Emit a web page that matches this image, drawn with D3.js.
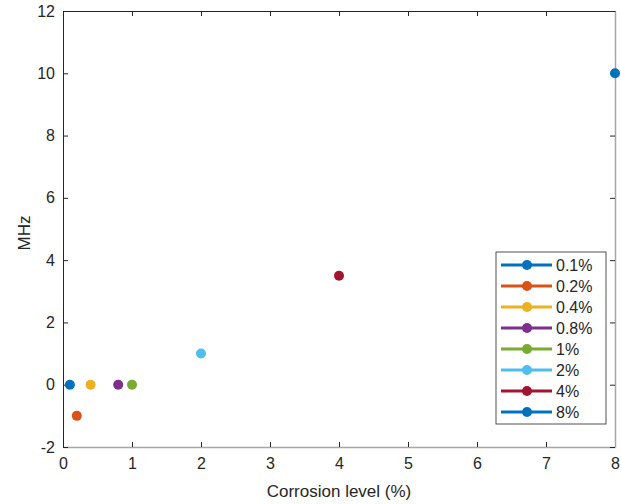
<!DOCTYPE html>
<html lang="en">
<head>
<meta charset="UTF-8">
<title>Corrosion level vs MHz</title>
<script src="https://d3js.org/d3.v7.min.js"></script>
<style>
    body { margin: 0; background: #fff; }
    svg text { font-family: "Liberation Sans", Arial, sans-serif; fill: #262626; }
</style>
</head>
<body>
<div id="chart"></div>
<script>
    // data
    var labels = ["0.1%", "0.2%", "0.4%", "0.8%", "1%", "2%", "4%", "8%"];
    var xVals = [0.1, 0.2, 0.4, 0.8, 1, 2, 4, 8];
    var yVals = [0, -1, 0, 0, 0, 1, 3.5, 10];
    var colors = ["#0072BD", "#D95319", "#EDB120", "#7E2F8E", "#77AC30", "#4DBEEE", "#A2142F", "#0072BD"];
    var xTicks = [0, 1, 2, 3, 4, 5, 6, 7, 8];
    var yTicks = [-2, 0, 2, 4, 6, 8, 10, 12];

    var W = 621, H = 504;
    var margin = {top: 11, right: 6, bottom: 57, left: 63};

    var svg = d3.select("#chart").append("svg")
        .attr("width", W)
        .attr("height", H);

    var x = d3.scaleLinear().domain([0, 8]).range([margin.left, W - margin.right]);
    var y = d3.scaleLinear().domain([-2, 12]).range([H - margin.bottom, margin.top]);

    var fmt = function(d) { return String(d); };   // plain hyphen for "-2"

    /* axes, ticks pointing inward like matlab */
    var gx = svg.append("g")
        .attr("transform", "translate(0," + y(-2) + ")")
        .call(d3.axisBottom(x).tickValues(xTicks).tickFormat(fmt).tickSizeInner(-5).tickSizeOuter(0).tickPadding(11));
    gx.select(".domain").attr("stroke", "#a6a6a6").attr("stroke-width", 1.5);
    gx.selectAll(".tick line").attr("stroke", "#262626");

    var gy = svg.append("g")
        .attr("transform", "translate(" + x(0) + ",0)")
        .call(d3.axisLeft(y).tickValues(yTicks).tickFormat(fmt).tickSizeInner(-5).tickSizeOuter(0).tickPadding(8));
    gy.select(".domain").attr("stroke", "#262626");
    gy.selectAll(".tick line").attr("stroke", "#262626");

    // top + right box edges with mirrored ticks
    var gt = svg.append("g")
        .attr("transform", "translate(0," + y(12) + ")")
        .call(d3.axisTop(x).tickValues(xTicks).tickSizeInner(-5).tickSizeOuter(0).tickFormat(""));
    gt.select(".domain").attr("stroke", "#262626");
    gt.selectAll(".tick line").attr("stroke", "#262626");

    var gr = svg.append("g")
        .attr("transform", "translate(" + x(8) + ",0)")
        .call(d3.axisRight(y).tickValues(yTicks).tickSizeInner(-5).tickSizeOuter(0).tickFormat(""));
    gr.select(".domain").attr("stroke", "#a6a6a6").attr("stroke-width", 1.5);
    gr.selectAll(".tick line").attr("stroke", "#262626");

    svg.selectAll(".tick text")
        .attr("fill", "#262626")
        .attr("font-family", null)
        .attr("font-size", null)
        .style("font-size", "16px");

    /* points */
    svg.append("g").selectAll("circle")
        .data(labels)
        .enter().append("circle")
        .attr("cx", function(d, i) { return x(xVals[i]); })
        .attr("cy", function(d, i) { return y(yVals[i]); })
        .attr("r", 5)
        .attr("fill", function(d, i) { return colors[i]; });

    /* axis labels */
    svg.append("text")
        .attr("x", (x(0) + x(8)) / 2)
        .attr("y", 497)
        .attr("text-anchor", "middle")
        .style("font-size", "17px")
        .text("Corrosion level (%)");

    svg.append("text")
        .attr("transform", "translate(30,233) rotate(-90)")
        .attr("text-anchor", "middle")
        .style("font-size", "17px")
        .text("MHz");

    /* legend */
    var lg = svg.append("g").attr("transform", "translate(496,252)");
    lg.append("rect")
        .attr("width", 110)
        .attr("height", 172)
        .attr("fill", "#fff")
        .attr("stroke", "#262626")
        .attr("stroke-width", 0.8);

    var items = lg.selectAll(".item")
        .data(labels)
        .enter().append("g")
        .attr("class", "item")
        .attr("transform", function(d, i) { return "translate(0," + (13 + i * 21) + ")"; });

    items.append("line")
        .attr("x1", 5).attr("x2", 56)
        .attr("stroke", function(d, i) { return colors[i]; })
        .attr("stroke-width", 3);

    items.append("circle")
        .attr("cx", 31)
        .attr("r", 5)
        .attr("fill", function(d, i) { return colors[i]; });

    items.append("text")
        .attr("x", 60)
        .attr("dy", "0.36em")
        .style("font-size", "16px")
        .text(function(d) { return d; });
</script>
</body>
</html>
